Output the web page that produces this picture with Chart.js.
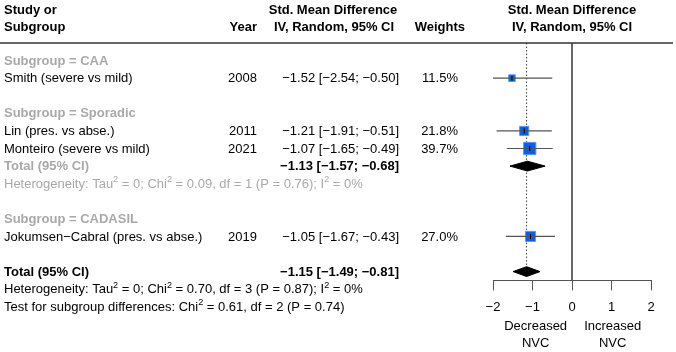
<!DOCTYPE html>
<html>
<head>
<meta charset="utf-8">
<script src="https://cdn.jsdelivr.net/npm/chart.js@4/dist/chart.umd.min.js"></script>
<style>
  html, body { margin: 0; padding: 0; background: #fff; }
  #wrap { width: 676px; height: 352px; }
</style>
</head>
<body>
<div id="wrap"><canvas id="forest" width="676" height="352"></canvas></div>
<script>
// ---- data ----
const subgroups = ['CAA', 'Sporadic', 'CADASIL'];
const studies = ['Smith (severe vs mild)', 'Lin (pres. vs abse.)', 'Monteiro (severe vs mild)', 'Jokumsen\u2212Cabral (pres. vs abse.)'];
const studyGroup = ['CAA', 'Sporadic', 'Sporadic', 'CADASIL'];
const years = [2008, 2011, 2021, 2019];
const smd = [-1.52, -1.21, -1.07, -1.05];
const lower = [-2.54, -1.91, -1.65, -1.67];
const upper = [-0.50, -0.51, -0.49, -0.43];
const weights = [11.5, 21.8, 39.7, 27.0];

// subgroup pooled results (only Sporadic has more than one study)
const groupEst = [null, -1.13, null];
const groupLower = [null, -1.57, null];
const groupUpper = [null, -0.68, null];
const groupHet = [null, 'Heterogeneity: Tau^2 = 0; Chi^2 = 0.09, df = 1 (P = 0.76); I^2 = 0%', null];

const overall = [-1.15, -1.49, -0.81]; // est, lower, upper
const overallHet = 'Heterogeneity: Tau^2 = 0; Chi^2 = 0.70, df = 3 (P = 0.87); I^2 = 0%';
const subgroupTest = 'Test for subgroup differences: Chi^2 = 0.61, df = 2 (P = 0.74)';

const xTicks = [-2, -1, 0, 1, 2];
const axisLabels = ['Decreased\nNVC', 'Increased\nNVC'];

// ---- row layout ----
const rows = [];
let r = -1;
subgroups.forEach((g, gi) => {
    rows.push({ kind: 'group', gi: gi, r: r++ });
    studyGroup.forEach((sg, i) => {
        if (sg === g) rows.push({ kind: 'study', i: i, r: r++ });
    });
    if (groupEst[gi] !== null) {
        rows.push({ kind: 'gtotal', gi: gi, r: r++ });
        rows.push({ kind: 'ghet', gi: gi, r: r++ });
    }
    r++;
});
const totalRow = r;

const FONT = '"Liberation Sans", Arial, Helvetica, sans-serif';
const GREY = '#a9a9a9';
const DIAMOND_H = 0.28;

function minus(s) { return String(s).replace(/-/g, '\u2212'); }
function ciText(e, lo, hi) {
    return minus(e.toFixed(2)) + ' [' + minus(lo.toFixed(2)) + '; ' + minus(hi.toFixed(2)) + ']';
}

// datasets
const datasets = [];
// zero line
datasets.push({ type: 'line', data: [{ x: 0, y: -2 }, { x: 0, y: 11.5 }], borderColor: '#555', borderWidth: 1, pointRadius: 0, order: 5 });
// overall estimate dotted line
datasets.push({ type: 'line', data: [{ x: overall[0], y: -2 }, { x: overall[0], y: totalRow - DIAMOND_H }], borderColor: '#444', borderWidth: 1, borderDash: [1.5, 2], pointRadius: 0, order: 5 });

const studyRows = rows.filter(o => o.kind === 'study');
// CI whiskers
studyRows.forEach(o => {
    datasets.push({ type: 'line', data: [{ x: lower[o.i], y: o.r }, { x: upper[o.i], y: o.r }], borderColor: '#555', borderWidth: 1.2, pointRadius: 0, order: 1 });
});
// weight squares
datasets.push({
    type: 'scatter',
    data: studyRows.map(o => ({ x: smd[o.i], y: o.r, w: weights[o.i] })),
    pointStyle: 'rect',
    backgroundColor: '#0a5fe4',
    borderColor: '#5f98ef',
    borderWidth: 1,
    pointRadius: ctx => (1.95 * Math.sqrt(ctx.raw.w)) / Math.SQRT2,
    order: 3
});
// estimate tick
datasets.push({
    type: 'scatter',
    data: studyRows.map(o => ({ x: smd[o.i], y: o.r })),
    pointStyle: 'line', rotation: 90, pointRadius: 2.5,
    borderColor: '#000', borderWidth: 1, order: 0
});
// diamonds
function addDiamond(est, lo, hi, row) {
    const idx = datasets.length;
    datasets.push({ type: 'line', data: [{ x: lo, y: row }, { x: est, y: row - DIAMOND_H }, { x: hi, y: row }],
        borderColor: '#000', borderWidth: 1, pointRadius: 0, fill: idx + 1, backgroundColor: '#000', order: 2 });
    datasets.push({ type: 'line', data: [{ x: lo, y: row }, { x: est, y: row + DIAMOND_H }, { x: hi, y: row }],
        borderColor: '#000', borderWidth: 1, pointRadius: 0, order: 2 });
}
rows.filter(o => o.kind === 'gtotal').forEach(o => addDiamond(groupEst[o.gi], groupLower[o.gi], groupUpper[o.gi], o.r));
addDiamond(overall[0], overall[1], overall[2], totalRow);

// text helpers
function setFont(ctx, size, bold) { ctx.font = (bold ? 'bold ' : '') + size + 'px ' + FONT; }
function txt(ctx, s, x, y, align, size, bold, color) {
    setFont(ctx, size, bold);
    ctx.fillStyle = color;
    ctx.textAlign = align;
    ctx.textBaseline = 'middle';
    ctx.fillText(s, x, y);
}
// text with ^2 superscripts, left aligned
function supTxt(ctx, s, x, y, size, color) {
    const parts = s.split('^2');
    ctx.fillStyle = color;
    ctx.textAlign = 'left';
    ctx.textBaseline = 'middle';
    let cx = x;
    parts.forEach((p, k) => {
        setFont(ctx, size, false);
        ctx.fillText(p, cx, y);
        cx += ctx.measureText(p).width;
        if (k < parts.length - 1) {
            setFont(ctx, size * 0.7, false);
            ctx.fillText('2', cx, y - size * 0.35);
            cx += ctx.measureText('2').width;
        }
    });
}

const forestText = {
    id: 'forestText',
    afterDraw(chart) {
        const ctx = chart.ctx;
        const ys = chart.scales.y, xs = chart.scales.x;
        const Y = v => ys.getPixelForValue(v) + 0.5;
        ctx.save();
        // header
        const h1 = Y(-3.88), h2 = Y(-2.92);
        txt(ctx, 'Study or', 4, h1, 'left', 13, true, '#000');
        txt(ctx, 'Subgroup', 4, h2, 'left', 13, true, '#000');
        txt(ctx, 'Year', 257, h2, 'right', 13, true, '#000');
        txt(ctx, 'Std. Mean Difference', 333, h1, 'center', 13, true, '#000');
        txt(ctx, 'IV, Random, 95% CI', 334, h2, 'center', 13, true, '#000');
        txt(ctx, 'Weights', 465, h2, 'right', 13, true, '#000');
        txt(ctx, 'Std. Mean Difference', xs.getPixelForValue(0), h1, 'center', 13, true, '#000');
        txt(ctx, 'IV, Random, 95% CI', xs.getPixelForValue(0), h2, 'center', 13, true, '#000');
        ctx.strokeStyle = '#333';
        ctx.lineWidth = 1.5;
        ctx.beginPath();
        ctx.moveTo(0, ys.getPixelForValue(-2));
        ctx.lineTo(673, ys.getPixelForValue(-2));
        ctx.stroke();

        rows.forEach(o => {
            const y = Y(o.r);
            if (o.kind === 'group') {
                txt(ctx, 'Subgroup = ' + subgroups[o.gi], 4, y, 'left', 13, true, GREY);
            } else if (o.kind === 'study') {
                const i = o.i;
                txt(ctx, studies[i], 4, y, 'left', 13, false, '#000');
                txt(ctx, String(years[i]), 257, y, 'right', 13, false, '#000');
                txt(ctx, ciText(smd[i], lower[i], upper[i]), 399, y, 'right', 13, false, '#000');
                txt(ctx, weights[i].toFixed(1) + '%', 458, y, 'right', 13, false, '#000');
            } else if (o.kind === 'gtotal') {
                txt(ctx, 'Total (95% CI)', 4, y, 'left', 13, true, GREY);
                txt(ctx, ciText(groupEst[o.gi], groupLower[o.gi], groupUpper[o.gi]), 399, y, 'right', 13, true, '#000');
            } else if (o.kind === 'ghet') {
                supTxt(ctx, groupHet[o.gi], 4, y, 13, GREY);
            }
        });
        const ty = Y(totalRow);
        txt(ctx, 'Total (95% CI)', 4, ty, 'left', 13, true, '#000');
        txt(ctx, ciText(overall[0], overall[1], overall[2]), 399, ty, 'right', 13, true, '#000');
        supTxt(ctx, overallHet, 4, Y(totalRow + 1), 13, '#000');
        supTxt(ctx, subgroupTest, 4, Y(totalRow + 2), 13, '#000');

        // axis direction labels
        const lx = [xs.getPixelForValue(-0.92), xs.getPixelForValue(1.03)];
        axisLabels.forEach((lab, k) => {
            lab.split('\n').forEach((line, j) => {
                txt(ctx, line, lx[k], 326 + j * 17, 'center', 13, false, '#000');
            });
        });
        ctx.restore();
    }
};

new Chart(document.getElementById('forest'), {
    type: 'scatter',
    data: { datasets: datasets },
    options: {
        responsive: false,
        animation: false,
        events: [],
        layout: { padding: { left: 493, right: 25, top: 43, bottom: 28 } },
        plugins: { legend: { display: false }, tooltip: { enabled: false } },
        scales: {
            x: {
                type: 'linear', min: xTicks[0], max: xTicks[xTicks.length - 1],
                afterBuildTicks: axis => { axis.ticks = xTicks.map(v => ({ value: v })); },
                ticks: { color: '#000', font: { family: FONT, size: 13 }, padding: 9, callback: v => minus(v) },
                grid: { drawOnChartArea: false, tickLength: 10, color: '#555', tickColor: '#555' },
                border: { display: true, color: '#555', width: 1 }
            },
            y: { type: 'linear', display: false, reverse: true, min: -2, max: 11.5 }
        }
    },
    plugins: [forestText]
});
</script>
</body>
</html>
